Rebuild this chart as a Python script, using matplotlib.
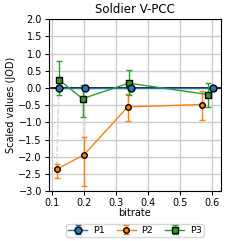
import numpy as np
import matplotlib
matplotlib.use('Agg')
import matplotlib.pyplot as plt

# bitrate and scaled JOD values per profile
p1_x = [0.122, 0.204, 0.347, 0.604]
p1_y = [0.0, 0.0, 0.0, 0.0]

p2_x = [0.115, 0.2, 0.337, 0.568]
p2_y = [-2.36, -1.94, -0.55, -0.48]
p2_lo = [-2.6, -2.84, -0.96, -0.92]
p2_hi = [-2.2, -1.43, -0.17, -0.08]

p3_x = [0.121, 0.196, 0.34, 0.587]
p3_y = [0.24, -0.31, 0.14, -0.19]
p3_lo = [-0.21, -0.84, -0.19, -0.56]
p3_hi = [0.79, 0.1, 0.51, 0.14]

labels = ['P1', 'P2', 'P3']
colors = ['#1f77b4', '#ff7f0e', '#2ca02c']

fig = plt.figure(figsize=(2.41, 2.41), dpi=100)
ax = fig.add_axes([0.203, 0.206, 0.714, 0.715])

ax.axhline(0, color='black', lw=1.2, zorder=1)

# grey dashed links between conditions at the same bitrate
for i in range(len(p2_x)):
    ax.plot([p1_x[i], p2_x[i]], [p1_y[i], p2_y[i]], ls='--', color='#dddddd', lw=1, zorder=1)
    ax.plot([p3_x[i], p2_x[i]], [p3_y[i], p2_y[i]], ls='--', color='#dddddd', lw=1, zorder=1)

def err(y, lo, hi):
    y = np.array(y)
    return [y - np.array(lo), np.array(hi) - y]

ax.errorbar(p1_x, p1_y, yerr=[[0] * 4, [0] * 4], color=colors[0], marker='o', ms=5, mec='black',
            lw=1, capsize=2, label=labels[0], zorder=4)
ax.errorbar(p2_x, p2_y, yerr=err(p2_y, p2_lo, p2_hi), color=colors[1], marker='o', ms=4,
            mec='black', lw=1, capsize=2, elinewidth=1, ecolor=colors[1], label=labels[1], zorder=3)
ax.errorbar(p3_x, p3_y, yerr=err(p3_y, p3_lo, p3_hi), color=colors[2], marker='s', ms=5,
            mec='black', lw=1, capsize=2, elinewidth=1, ecolor=colors[2], label=labels[2], zorder=3)

ax.set_ylim(-3, 2)
ax.set_xticks([0.1, 0.2, 0.3, 0.4, 0.5, 0.6])
ax.set_yticks(np.arange(-3, 2.01, 0.5))
ax.grid(True, color='#cccccc', lw=1)
ax.set_axisbelow(True)
ax.tick_params(labelsize=7, length=3, pad=2)

ax.set_title('Soldier V-PCC', fontsize=8.5, pad=4)
ax.set_xlabel('bitrate', fontsize=7, labelpad=0)
ax.set_ylabel('Scaled values (JOD)', fontsize=7, labelpad=2)

ax.legend(loc='upper center', bbox_to_anchor=(0.5, -0.16), ncol=3, fontsize=6.8,
          handlelength=2.0, columnspacing=1.3, borderpad=0.25, handletextpad=0.6)

fig.savefig('out.png', dpi=100)
